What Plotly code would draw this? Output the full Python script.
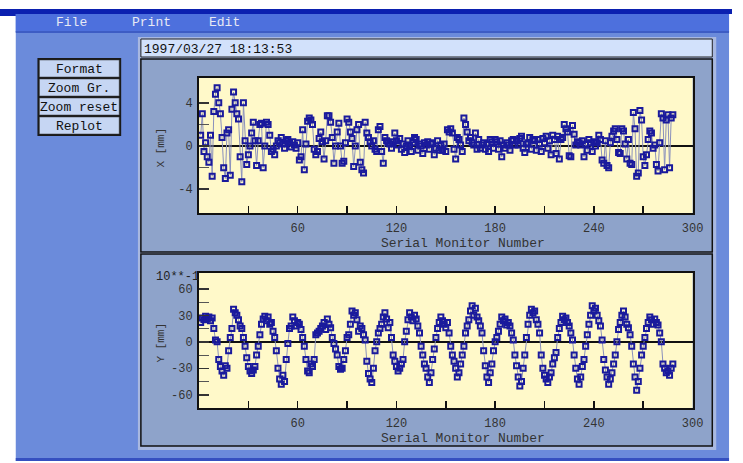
import plotly.graph_objects as go

W, H = 743, 463

# ---------------- data ----------------
serial = list(range(1, 289))

x_dev = [
    1.0, 3.0, -0.5, 0.3, -1.0, -1.5, 1.0, -2.8, 3.2, 4.8,
    5.4, 4.0, 3.0, 0.8, -2.0, -3.0, 1.2, 1.5, -2.7, 3.4,
    5.0, 4.0, 3.0, 2.5, -1.0, -3.3, 4.0, 0.5, -1.7, -0.8,
    0.0, 1.2, 2.2, 0.5, -1.8, 0.5, 2.0, 2.1, -2.0, 0.0,
    2.2, 2.0, 1.0, -0.5, -0.3, -0.8, 0.0, 0.5, 0.3, 0.8,
    0.2, -0.2, 0.5, 0.6, 0.3, -0.1, 0.4, 0.1, -0.2, 0.3,
    -1.3, -1.0, 1.5, -2.2, 0.2, 2.3, 2.6, 2.4, 2.0, -0.3,
    -0.8, -0.5, 0.7, 1.3, 0.4, -1.2, 0.5, 2.8, 2.8, 2.2,
    0.8, -1.6, 0.0, 1.3, 2.1, 0.0, -1.6, -1.4, 0.3, 2.5,
    2.2, 1.3, 0.7, -1.9, 0.0, 1.5, 2.0, -1.5, -2.2, -2.5,
    2.2, 1.2, 0.8, 0.4, 0.0, 0.5, -0.3, -0.5, 1.5, 1.8,
    -0.5, -1.6, 0.8, 0.5, 0.3, 0.2, -0.2, 0.4, 1.2, 0.5,
    0.1, 0.7, -0.3, 0.2, -0.6, 0.0, 0.5, 0.1, -0.5, 0.3,
    0.8, 0.6, -0.4, 0.2, 0.0, -0.7, 0.3, 0.1, 0.4, -0.3,
    0.2, 0.3, -0.8, -0.2, 0.5, -0.4, 0.1, -0.4, 0.2, -0.5,
    1.5, 1.3, 1.6, 1.2, -0.3, -1.2, 0.8, 0.6, 0.1, -0.5,
    2.6, 2.0, 1.3, 0.5, 0.8, 0.3, 0.1, 1.2, -0.3, 0.6,
    -0.2, 0.1, 0.3, -0.3, 0.2, -0.5, 0.6, 0.4, -0.2, 0.6,
    0.4, -0.3, 0.5, -1.0, 0.1, -0.2, 0.3, 0.1, -0.4, 0.5,
    0.6, 0.1, 0.5, 0.1, 0.7, 0.9, -0.2, -0.6, 0.2, 0.3,
    0.8, -0.3, 0.6, 0.5, -0.4, 0.6, 0.2, -0.5, 0.7, 0.3,
    0.9, -0.2, 0.5, -0.8, 1.0, 0.6, -0.7, 0.9, -1.2, 0.6,
    0.8, 2.0, 1.6, 1.3, -0.9, -1.0, 1.9, 1.1, 0.1, 0.4,
    0.3, 0.1, 0.5, -1.0, 0.2, -0.4, 0.6, 0.3, -0.5, 0.4,
    0.0, 0.3, 1.0, 0.6, -1.3, -1.6, 0.5, -1.8, -2.0, 0.3,
    0.9, 1.4, 1.6, 0.6, -0.6, -0.7, 1.6, 1.4, 0.2, -1.2,
    0.6, -1.6, -1.7, 3.1, 1.6, -2.8, -2.5, 3.3, 2.4, -1.0,
    -1.8, -0.8, 0.6, 1.4, 1.2, -0.2, 0.1, -1.7, -2.3, 0.3,
    3.0, 2.6, -2.2, 2.4, 2.9, -2.0, 2.6, 2.9,
]

y_dev = [
    22, 27, 25, 29, 26, 28, 24, 27, 15, 2,
    0, -20, -28, -33, -38, -27, -30, -10, 5, 15,
    37, 33, 30, 25, 18, 15, 5, -5, -18, -28,
    -33, -36, -32, -28, -15, -5, 8, 20, 26, 29,
    24, 28, 20, 22, 12, 5, -10, -30, -42, -48,
    -38, -45, -20, -2, 15, 18, 28, 24, 18, 22,
    20, 14, 5, -5, -20, -33, -35, -25, -28, -20,
    8, 10, 12, 15, 18, 22, 14, 26, 20, 16,
    5, -2, -8, -15, -28, -31, -30, -20, -10, 5,
    8, 20, 35, 30, 33, 25, 12, 18, 15, 8,
    2, -22, -36, -42, -46, -30, -10, 0, 10, 15,
    20, 28, 33, 26, 16, 22, 5, -15, -22, -28,
    -33, -30, -25, -20, 0, 12, 25, 33, 28, 24,
    30, 26, 18, 10, -5, -15, -25, -30, -40, -46,
    -35, -20, -8, 5, 15, 22, 28, 24, 20, 16,
    22, 10, -5, -15, -22, -30, -40, -35, -25, -15,
    -5, 10, 18, 25, 35, 41, 30, 38, 28, 24,
    18, 10, -10, -27, -40, -46, -35, -25, -10, 0,
    5, 12, 20, 28, 24, 26, 19, 22, 18, 10,
    2, -15, -27, -40, -50, -45, -30, -15, 5, 20,
    30, 37, 33, 35, 25, 20, 10, -15, -30, -38,
    -42, -46, -40, -35, -25, -18, -12, 5, 15, 22,
    29, 25, 27, 22, 18, 10, 2, -15, -30, -42,
    -48, -40, -28, -20, -5, 8, 20, 30, 41, 35,
    38, 30, 24, 18, 2, -20, -32, -40, -48, -42,
    -35, -25, -15, 0, 14, 22, 30, 35, 28, 20,
    16, 8, -5, -25, -40, -55, -45, -30, -15, -5,
    5, 15, 22, 28, 25, 20, 26, 22, 19, 10,
    0, -25, -30, -35, -33, -38, -30, -25,
]

x_tickvals = [60, 120, 180, 240, 300]
x_minor = [30, 90, 150, 210, 270]
top_tickvals = [-4, 0, 4]
top_ticktext = ["-4", "0", "4"]
top_minor = [-2, 2]
bot_tickvals = [-60, -30, 0, 30, 60]
bot_ticktext = ["-60", "-30", "0", "30", "60"]
bot_minor = [-45, -15, 15, 45]

menu_items = ["File", "Print", "Edit"]
menu_x = [73, 154, 228]
buttons = ["Format", "Zoom Gr.", "Zoom reset", "Replot"]
timestamp = "1997/03/27 18:13:53"
x_title = "Serial Monitor Number"
top_ytitle = "X [mm]"
bot_ytitle = "Y [mm]"
exponent = "10**-1"

MONO = "Liberation Mono, Courier New, monospace"

# ---------------- helpers ----------------
def px(x):
    return x / W

def py(y):
    return 1 - y / H

shapes = []

def rect(x0, y0, x1, y1, fill, line=None, lw=0):
    shapes.append(dict(
        type="rect", xref="paper", yref="paper",
        x0=px(x0), x1=px(x1), y0=py(y1), y1=py(y0),
        fillcolor=fill,
        line=dict(color=line if line else fill, width=lw),
        layer="below",
    ))

annotations = []

def text(s, x, y, size=13, color="#111", xanchor="center", angle=0):
    annotations.append(dict(
        text=s, x=px(x), y=py(y), xref="paper", yref="paper",
        xanchor=xanchor, yanchor="middle", showarrow=False,
        textangle=angle, font=dict(family=MONO, size=size, color=color),
    ))

# ---------------- GUI chrome ----------------
rect(0, 9, 743, 14, "#0b20b0")
rect(0, 9, 20, 16, "#0b20b0")
rect(16, 14, 740, 461, "#6b8bdb")
rect(16, 14, 740, 32, "#4d70dd")
rect(16, 31, 740, 33, "#3d5cc4")
rect(16, 458, 740, 461, "#3550c0")

# light bevel around panel area
rect(140, 37, 727, 450, "#a8b8e0")

# timestamp box
rect(143, 39, 723, 57, "#d2e1fb", "#222", 1)

# panels
rect(143, 59, 723, 252, "#8ea3ca", "#111", 1.5)
rect(143, 254, 723, 446, "#8ea3ca", "#111", 1.5)

# plot backgrounds
rect(202, 78, 703, 213, "#fff9c9")
rect(202, 273, 703, 408, "#fff9c9")

# buttons
rect(38, 58, 123, 136, "#1a1a1a")
for i, b in enumerate(buttons):
    top = 60 + 19 * i
    rect(40, top, 121, top + 17, "#c6d6f3", "#333", 0.5)
    text(b, 80.5, top + 9, size=13, color="#111")

for m, mx in zip(menu_items, menu_x):
    text(m, mx, 23, size=13, color="#e8eaf4")

text(timestamp, 144, 50, size=13, color="#111", xanchor="left")

# axis titles
text(x_title, 470, 243, size=13, color="#333")
text(x_title, 470, 438, size=13, color="#333")
text(top_ytitle, 163, 148, size=11, color="#333", angle=-90)
text(bot_ytitle, 163, 343, size=11, color="#333", angle=-90)
text(exponent, 156, 277, size=12, color="#222", xanchor="left")

# ---------------- figure ----------------
fig = go.Figure()

line_style = dict(color="#8a90bc", width=1)
marker_style = dict(symbol="square-open", size=5, color="#1a1a9c",
                    line=dict(width=2, color="#1a1a9c"))

fig.add_trace(go.Scatter(x=serial, y=x_dev, mode="lines+markers",
                         line=line_style, marker=marker_style,
                         xaxis="x", yaxis="y", hoverinfo="skip"))
fig.add_trace(go.Scatter(x=serial, y=y_dev, mode="lines+markers",
                         line=line_style, marker=marker_style,
                         xaxis="x2", yaxis="y2", hoverinfo="skip"))

tickfont = dict(family=MONO, size=12, color="#333")

def xaxis_cfg(anchor):
    return dict(
        domain=[px(202), px(703)], anchor=anchor, range=[0, 300],
        tickmode="array", tickvals=x_tickvals, ticks="inside", ticklen=7,
        tickwidth=1.5, tickcolor="#111",
        minor=dict(tickmode="array", tickvals=x_minor, ticks="inside",
                   ticklen=7, tickwidth=1.5, tickcolor="#111"),
        showgrid=False, zeroline=False, showline=True, mirror=True,
        linecolor="#111", linewidth=2, tickfont=tickfont,
        ticklabelstandoff=3,
    )

def yaxis_cfg(anchor, dom, rng, tv, tt, mn):
    return dict(
        domain=dom, anchor=anchor, range=rng,
        tickmode="array", tickvals=tv, ticktext=tt, ticks="inside",
        ticklen=10, tickwidth=1.5, tickcolor="#333",
        minor=dict(tickmode="array", tickvals=mn, ticks="inside",
                   ticklen=10, tickwidth=1, tickcolor="#555"),
        showgrid=False, zeroline=True, zerolinecolor="#111", zerolinewidth=2,
        showline=True, mirror=True, linecolor="#111", linewidth=2,
        tickfont=tickfont, ticklabelstandoff=2,
    )

fig.update_layout(
    width=W, height=H, autosize=False, margin=dict(l=0, r=0, t=0, b=0),
    paper_bgcolor="white", plot_bgcolor="rgba(0,0,0,0)",
    showlegend=False,
    xaxis=xaxis_cfg("y"),
    yaxis=yaxis_cfg("x", [py(213), py(78)], [-6.2, 6.3],
                    top_tickvals, top_ticktext, top_minor),
    xaxis2=xaxis_cfg("y2"),
    yaxis2=yaxis_cfg("x2", [py(408), py(273)], [-75, 78],
                     bot_tickvals, bot_ticktext, bot_minor),
    shapes=shapes, annotations=annotations,
)

assert len(x_dev) == len(serial) and len(y_dev) == len(serial)

post = (
    "document.body.style.margin='0';"
    "document.body.style.overflow='hidden';"
    "var gd=document.getElementById('{plot_id}');"
    "gd.style.width='743px';gd.style.height='463px';"
    "Plotly.relayout(gd,{width:743,height:463,autosize:false});"
)

fig.write_html(
    "out.html",
    config={"displayModeBar": False, "staticPlot": True, "responsive": False},
    default_width="743px", default_height="463px",
    post_script=post,
)
